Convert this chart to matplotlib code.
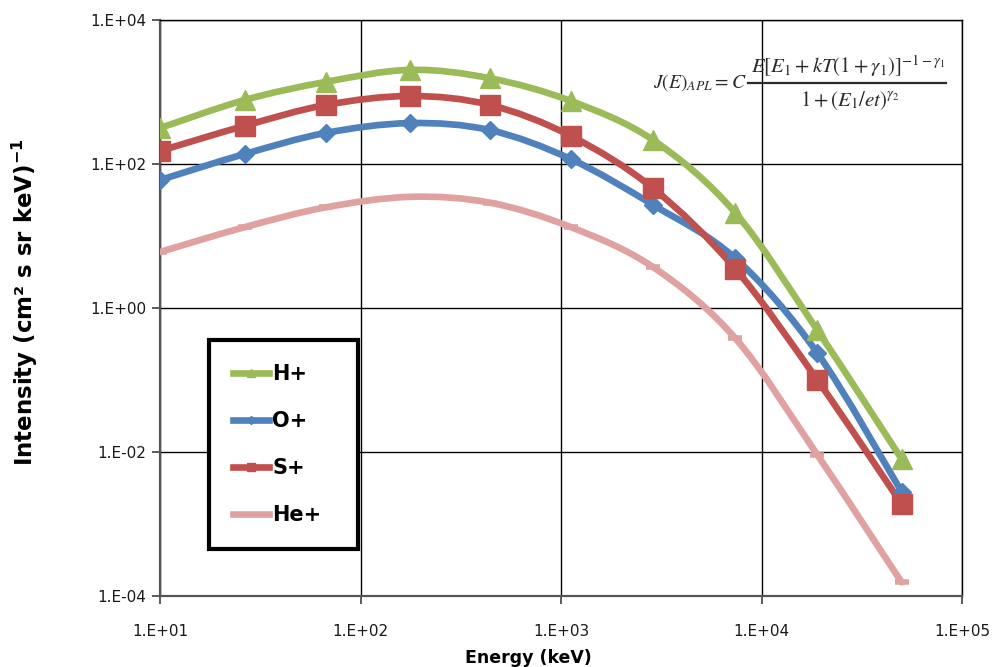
import matplotlib.pyplot as plt
import numpy as np
from matplotlib.path import Path
from matplotlib.patches import PathPatch
from matplotlib.lines import Line2D

# energy (keV) at the marker positions
energy = [10, 26.5, 67, 177, 443, 1120, 2880, 7400, 19000, 50000]

# intensity (cm^2 s sr keV)^-1
h_plus = [316, 776, 1380, 2030, 1550, 750, 215, 21, 0.49, 0.0080]
o_plus = [60, 138, 270, 370, 295, 117, 27, 4.9, 0.237, 0.0028]
s_plus = [152, 340, 660, 880, 660, 245, 46, 3.5, 0.10, 0.0019]
he_plus = [6.0, 13.3, 25, 35, 29, 13.3, 3.7, 0.38, 0.0091, 0.000155]

labels = ['H+', 'O+', 'S+', 'He+']
colors = ['#9BBB59', '#4F81BD', '#C0504D', '#E0A2A0']
markers = ['^', 'D', 's', '_']
msizes = [14, 9, 14, 10]


def smooth_path(x, y):
    # excel-style smoothed line: cubic bezier through the points, in log space
    lx, ly = np.log10(x), np.log10(y)
    n = len(lx)
    verts = [(lx[0], ly[0])]
    codes = [Path.MOVETO]
    for i in range(n - 1):
        p0 = np.array([lx[max(i - 1, 0)], ly[max(i - 1, 0)]])
        p1 = np.array([lx[i], ly[i]])
        p2 = np.array([lx[i + 1], ly[i + 1]])
        p3 = np.array([lx[min(i + 2, n - 1)], ly[min(i + 2, n - 1)]])
        c1 = p1 + (p2 - p0) / 6
        c2 = p2 - (p3 - p1) / 6
        verts += [tuple(c1), tuple(c2), tuple(p2)]
        codes += [Path.CURVE4] * 3
    verts = 10 ** np.array(verts)
    return Path(verts, codes)


fig = plt.figure(figsize=(10, 6.67), dpi=100)
ax = fig.add_axes([0.16, 0.1064, 0.802, 0.8636])
ax.set_xscale('log')
ax.set_yscale('log')
ax.set_xlim(10, 1e5)
ax.set_ylim(1e-4, 1e4)

series = [h_plus, o_plus, s_plus, he_plus]
handles = []
for vals, lab, col, mk, ms in zip(series, labels, colors, markers, msizes):
    patch = PathPatch(smooth_path(energy, vals), facecolor='none', edgecolor=col,
                      lw=4.8, capstyle='round', joinstyle='round', zorder=3)
    ax.add_patch(patch)
    if mk == '_':
        ax.plot(energy, vals, linestyle='none', marker=mk, ms=ms, mew=4,
                color=col, zorder=4)
    else:
        ax.plot(energy, vals, linestyle='none', marker=mk, ms=ms,
                mfc=col, mec=col, zorder=4)
    handles.append(Line2D([], [], color=col, lw=4.8, marker=None if mk == '_' else mk,
                          ms=ms * 0.45, mfc=col, mec=col))

ax.set_xticks([1e1, 1e2, 1e3, 1e4, 1e5])
ax.set_xticklabels(['1.E+01', '1.E+02', '1.E+03', '1.E+04', '1.E+05'])
ax.set_yticks([1e-4, 1e-2, 1e0, 1e2, 1e4])
ax.set_yticklabels(['1.E-04', '1.E-02', '1.E+00', '1.E+02', '1.E+04'])
ax.minorticks_off()
ax.tick_params(axis='both', direction='out', length=6, width=1.2, color='#404040',
               labelsize=11, labelcolor='#1a1a1a', pad=4)
ax.tick_params(axis='x', pad=14)

ax.grid(True, color='black', lw=1)
for side in ['top', 'right']:
    ax.spines[side].set_color('black')
    ax.spines[side].set_linewidth(1)
for side in ['bottom', 'left']:
    ax.spines[side].set_color('#555555')
    ax.spines[side].set_linewidth(1.6)

ax.set_xlabel('Energy (keV)', fontsize=12.5, fontweight='bold')
ax.xaxis.set_label_coords(0.459, -0.092)
ax.set_ylabel(r'Intensity (cm² s sr keV)$^{\mathbf{-1}}$', fontsize=16.5,
              fontweight='bold')
ax.yaxis.set_label_coords(-0.150, 0.51)

# formula, built in pieces so the fraction keeps full size
fml = dict(transform=ax.transAxes, fontsize=15, math_fontfamily='stix',
           color='#2a2a2a', zorder=5)
ax.text(0.731, 0.892, r'$J(E)_{APL} = C$', ha='right', va='center',
        **{**fml, 'fontsize': 14})
ax.text(0.858, 0.920, r'$E[E_1 + kT(1+\gamma_1)]^{-1-\gamma_1}$',
        ha='center', va='center', **fml)
ax.text(0.860, 0.860, r'$1 + (E_1/et)^{\gamma_2}$', ha='center', va='center', **fml)
ax.plot([0.733, 0.980], [0.891, 0.891], transform=ax.transAxes,
        color='#2a2a2a', lw=1.6, zorder=5)

leg = ax.legend(handles, labels, loc='lower left',
                bbox_to_anchor=(0.061, 0.0816, 0.186, 0.36), mode='expand',
                borderaxespad=0, frameon=True, fancybox=False, handlelength=1.75,
                handletextpad=0.15, labelspacing=1.3, borderpad=1.15,
                prop={'weight': 'bold', 'size': 15})
leg.get_frame().set_edgecolor('black')
leg.get_frame().set_linewidth(3)
leg.get_frame().set_alpha(1)
leg.set_zorder(6)

fig.savefig('out.png', dpi=100)
